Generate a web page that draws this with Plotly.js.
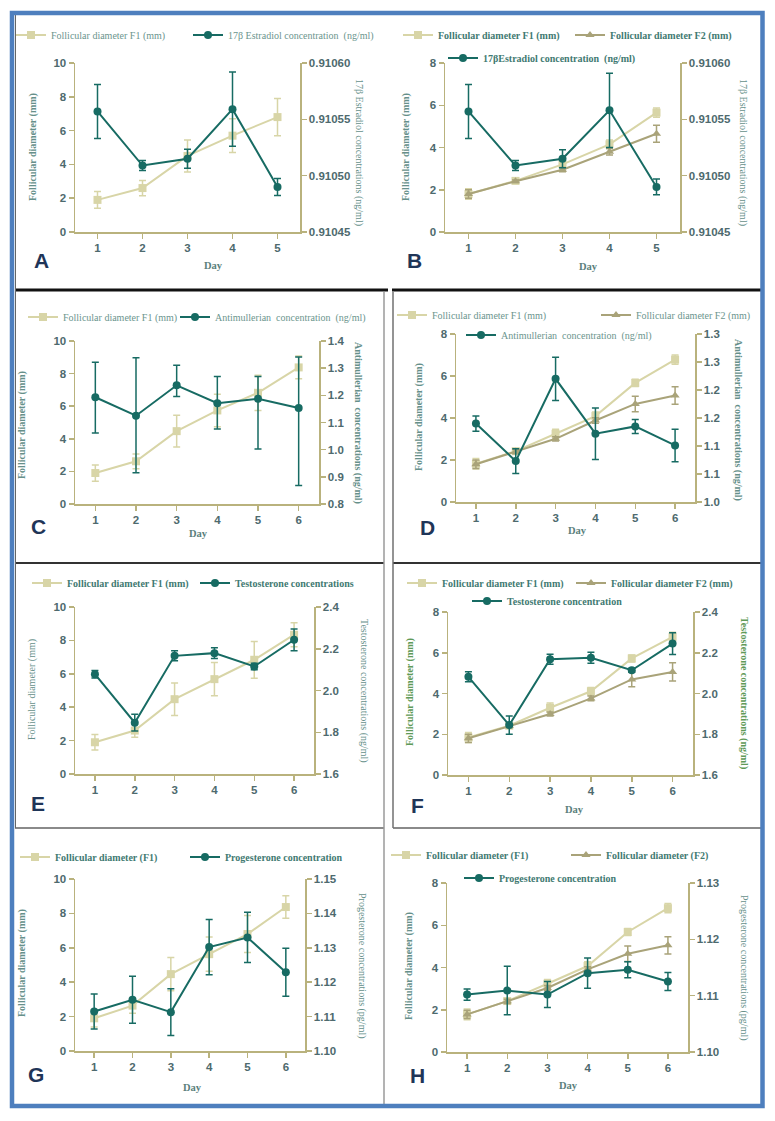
<!DOCTYPE html>
<html>
<head>
<meta charset="utf-8">
<script src="https://cdn.plot.ly/plotly-3.0.1.min.js"></script>
<style>
  html, body { margin: 0; padding: 0; background: #fff; }
  #chart { width: 775px; height: 1121px; }
</style>
</head>
<body>
<div id="chart"></div>
<script>
const days5 = [1, 2, 3, 4, 5];
const days6 = [1, 2, 3, 4, 5, 6];

// A - estradiol, one follicle
const aF1 = [1.9, 2.6, 4.5, 5.7, 6.8];
const aF1Sd = [0.5, 0.45, 0.95, 1.0, 1.1];
const aE2 = [0.910557, 0.910509, 0.910515, 0.910559, 0.910490];
const aE2Sd = [0.000024, 0.0000045, 0.0000085, 0.000033, 0.0000075];

// B - estradiol, two follicles
const bF1 = [1.8, 2.42, 3.2, 4.15, 5.65];
const bF1Sd = [0.25, 0.07, 0.2, 0.2, 0.22];
const bF2 = [1.8, 2.4, 2.95, 3.8, 4.65];
const bF2Sd = [0.2, 0.06, 0.1, 0.15, 0.4];
const bE2 = [0.910557, 0.910509, 0.910515, 0.910558, 0.910490];
const bE2Sd = [0.000024, 0.0000045, 0.000008, 0.000033, 0.000007];

// C - AMH, one follicle
const cF1 = [1.9, 2.62, 4.47, 5.74, 6.82, 8.38];
const cF1Sd = [0.5, 0.45, 0.97, 1.0, 1.08, 0.7];
const cAmh = [1.193, 1.125, 1.237, 1.171, 1.187, 1.153];
const cAmhUp = [0.129, 0.213, 0.074, 0.098, 0.082, 0.188];
const cAmhDn = [0.132, 0.21, 0.041, 0.095, 0.185, 0.285];

// D - AMH, two follicles
const dF1 = [1.82, 2.42, 3.25, 4.09, 5.67, 6.78];
const dF1Sd = [0.25, 0.12, 0.22, 0.2, 0.17, 0.22];
const dF2 = [1.8, 2.4, 3.01, 3.88, 4.67, 5.07];
const dF2Sd = [0.2, 0.1, 0.1, 0.13, 0.37, 0.42];
const dAmh = [1.140, 1.073, 1.220, 1.122, 1.135, 1.101];
const dAmhSd = [0.0135, 0.022, 0.0386, 0.046, 0.0125, 0.029];

// E - testosterone, one follicle
const eF1 = [1.9, 2.6, 4.48, 5.68, 6.84, 8.34];
const eF1Sd = [0.47, 0.4, 0.97, 1.0, 1.1, 0.72];
const eT = [2.078, 1.846, 2.166, 2.179, 2.115, 2.243];
const eTSd = [0.018, 0.04, 0.024, 0.026, 0.016, 0.052];

// F - testosterone, two follicles
const fF1 = [1.84, 2.42, 3.3, 4.11, 5.72, 6.78];
const fF1Sd = [0.25, 0.1, 0.23, 0.18, 0.17, 0.23];
const fF2 = [1.8, 2.4, 2.99, 3.76, 4.69, 5.06];
const fF2Sd = [0.2, 0.08, 0.1, 0.12, 0.36, 0.45];
const fT = [2.082, 1.845, 2.168, 2.175, 2.114, 2.245];
const fTSd = [0.0245, 0.045, 0.0245, 0.027, 0.01, 0.053];

// G - progesterone, one follicle
const gF1 = [1.9, 2.64, 4.47, 5.63, 6.8, 8.37];
const gF1Sd = [0.5, 0.45, 0.97, 1.0, 1.08, 0.65];
const gP = [1.1115, 1.1149, 1.1113, 1.1302, 1.133, 1.1229];
const gPSd = [0.0051, 0.0068, 0.0068, 0.008, 0.0073, 0.007];

// H - progesterone, two follicles
const hF1 = [1.78, 2.41, 3.23, 4.07, 5.68, 6.81];
const hF1Sd = [0.25, 0.12, 0.2, 0.2, 0.17, 0.22];
const hF2 = [1.78, 2.4, 3.03, 3.91, 4.65, 5.05];
const hF2Sd = [0.2, 0.1, 0.12, 0.13, 0.37, 0.41];
const hP = [1.1102, 1.1109, 1.1102, 1.1140, 1.1146, 1.1125];
const hPSd = [0.001, 0.0043, 0.0023, 0.0027, 0.0014, 0.0016];

// tick values / labels
const leftTicks10 = [0, 2, 4, 6, 8, 10];
const leftTicks8 = [0, 2, 4, 6, 8];
const e2Ticks = [0.91045, 0.9105, 0.91055, 0.9106];
const amhTicksC = [0.8, 0.9, 1.0, 1.1, 1.2, 1.3, 1.4];
const amhTicksD = [1.0, 1.05, 1.1, 1.15, 1.2, 1.25, 1.3];
const amhTextD = ['1.0', '1.1', '1.1', '1.2', '1.2', '1.3', '1.3'];
const testTicks = [1.6, 1.8, 2.0, 2.2, 2.4];
const progTicksG = [1.10, 1.11, 1.12, 1.13, 1.14, 1.15];
const progTicksH = [1.10, 1.11, 1.12, 1.13];

const W = 775, H = 1121;
const C_F1 = '#d8d5a7', C_F2 = '#a9a379', C_HOR = '#176b63';
const C_AX = '#b9b27d', C_TICK = '#4e6a6e', C_TITLE = '#66908a';
const SERIF = 'Liberation Serif, Times New Roman, serif';
const SANS = 'Liberation Sans, Arial, sans-serif';

const nb = s => s.replace(/  /g, ' \u00a0');

// panel geometry in pixels, plus its series
const panels = [
  { box: [75, 300, 63, 232], xmax: 5.5, days: days5, left: leftTicks10, right: e2Ticks, rfmt: '.5f',
    bold: false, rbold: false, letter: ['A', 41, 260], day: [213, 265],
    ltitle: [33, 147], rtitle: [359, 152, '17β Estradiol concentrations (ng/ml)'],
    series: [
      ['F1', aF1, aF1Sd, aF1Sd, 'Follicular diameter F1 (mm)', 53, 35],
      ['H', aE2, aE2Sd, aE2Sd, '17β Estradiol concentration  (ng/ml)', 230, 35]] },
  { box: [445, 680, 63, 232], xmax: 5.5, days: days5, left: leftTicks8, right: e2Ticks, rfmt: '.5f',
    bold: true, rbold: false, letter: ['B', 414, 260], day: [588, 266],
    ltitle: [406, 147], rtitle: [743, 152, '17β Estradiol concentrations (ng/ml)'],
    series: [
      ['F1', bF1, bF1Sd, bF1Sd, 'Follicular diameter F1 (mm)', 440, 35],
      ['F2', bF2, bF2Sd, bF2Sd, 'Follicular diameter F2 (mm)', 612, 35],
      ['H', bE2, bE2Sd, bE2Sd, '17βEstradiol concentration  (ng/ml)', 485, 58]] },
  { box: [75, 319, 341, 504], xmax: 6.5, days: days6, left: leftTicks10, right: amhTicksC, rfmt: '.1f',
    bold: false, rbold: true, letter: ['C', 38, 526], day: [198, 534],
    ltitle: [22, 425], rtitle: [358, 423, 'Antimullerian  concentrations (ng/ml)'],
    series: [
      ['F1', cF1, cF1Sd, cF1Sd, 'Follicular diameter F1 (mm)', 65, 317],
      ['H', cAmh, cAmhUp, cAmhDn, 'Antimullerian  concentration  (ng/ml)', 217, 317]] },
  { box: [456, 695, 334, 502], xmax: 6.5, days: days6, left: leftTicks8, right: amhTicksD, rtext: amhTextD,
    bold: false, rbold: true, letter: ['D', 427, 527], day: [577, 530],
    ltitle: [419, 417], rtitle: [738, 420, 'Antimullerian  concentrations (ng/ml)'],
    series: [
      ['F1', dF1, dF1Sd, dF1Sd, 'Follicular diameter F1 (mm)', 434, 315],
      ['F2', dF2, dF2Sd, dF2Sd, 'Follicular diameter F2 (mm)', 638, 315],
      ['H', dAmh, dAmhSd, dAmhSd, 'Antimullerian  concentration  (ng/ml)', 503, 335]] },
  { box: [75, 314, 607, 774], xmax: 6.5, days: days6, left: leftTicks10, right: testTicks, rfmt: '.1f',
    bold: true, rbold: false, lreg: true, letter: ['E', 38, 803], day: null,
    ltitle: [32, 690], rtitle: [364, 691, 'Testosterone concentrations (ng/ml)'],
    series: [
      ['F1', eF1, eF1Sd, eF1Sd, 'Follicular diameter F1 (mm)', 69, 583],
      ['H', eT, eTSd, eTSd, 'Testosterone concentrations', 237, 583]] },
  { box: [448, 693, 612, 775], xmax: 6.5, days: days6, left: leftTicks8, right: testTicks, rfmt: '.1f',
    bold: true, rbold: true, letter: ['F', 417, 805], day: [574, 809], green: true,
    ltitle: [410, 692], rtitle: [744, 693, 'Testosterone concentrations (ng/ml)'],
    series: [
      ['F1', fF1, fF1Sd, fF1Sd, 'Follicular diameter F1 (mm)', 444, 583],
      ['F2', fF2, fF2Sd, fF2Sd, 'Follicular diameter F2 (mm)', 613, 583],
      ['H', fT, fTSd, fTSd, 'Testosterone concentration', 509, 601]] },
  { box: [75, 305, 879, 1051], xmax: 6.5, days: days6, left: leftTicks10, right: progTicksG, rfmt: '.2f',
    bold: true, rbold: false, letter: ['G', 36, 1074], day: [192, 1087],
    ltitle: [22, 963], rtitle: [362, 966, 'Progesterone concentrations (pg/ml)'],
    series: [
      ['F1', gF1, gF1Sd, gF1Sd, 'Follicular diameter (F1)', 57, 857],
      ['H', gP, gPSd, gPSd, 'Progesterone concentration', 227, 857]] },
  { box: [447, 688, 883, 1052], xmax: 6.5, days: days6, left: leftTicks8, right: progTicksH, rfmt: '.2f',
    bold: true, rbold: false, letter: ['H', 418, 1075], day: [568, 1085],
    ltitle: [409, 966], rtitle: [744, 968, 'Progesterone concentrations (pg/ml)'],
    series: [
      ['F1', hF1, hF1Sd, hF1Sd, 'Follicular diameter (F1)', 428, 855],
      ['F2', hF2, hF2Sd, hF2Sd, 'Follicular diameter (F2)', 608, 855],
      ['H', hP, hPSd, hPSd, 'Progesterone concentration', 501, 878]] }
];

const style = {
  F1: { color: C_F1, symbol: 'square', size: 8 },
  F2: { color: C_F2, symbol: 'triangle-up', size: 8 },
  H: { color: C_HOR, symbol: 'circle', size: 8 }
};

const data = [];
const layout = {
  width: W, height: H,
  margin: { l: 0, r: 0, t: 0, b: 0 },
  paper_bgcolor: '#fff', plot_bgcolor: 'rgba(0,0,0,0)',
  showlegend: true,
  annotations: [], shapes: []
};

let legendCount = 0;
const axisBase = {
  showline: true, linecolor: C_AX, linewidth: 1.5, showgrid: false, zeroline: false,
  ticks: 'outside', ticklen: 5, tickwidth: 1.5, tickcolor: C_AX,
  tickfont: { family: SANS, size: 11.5, color: C_TICK, weight: 'bold' },
  fixedrange: true
};

function note(x, y, text, font, angle) {
  layout.annotations.push({
    xref: 'paper', yref: 'paper', x: x / W, y: 1 - y / H,
    xanchor: 'center', yanchor: 'middle',
    text: text, textangle: angle || 0, showarrow: false, font: font
  });
}

panels.forEach((p, i) => {
  const xid = i === 0 ? 'x' : 'x' + (i + 1);
  const yl = i === 0 ? 'y' : 'y' + (2 * i + 1);
  const yr = 'y' + (2 * i + 2);
  const [x0, x1, y0, y1] = p.box;

  layout[i === 0 ? 'xaxis' : 'xaxis' + (i + 1)] = Object.assign({}, axisBase, {
    domain: [x0 / W, x1 / W], range: [0.5, p.xmax], anchor: yl,
    tickvals: p.days
  });
  layout['yaxis' + (i === 0 ? '' : 2 * i + 1)] = Object.assign({}, axisBase, {
    domain: [1 - y1 / H, 1 - y0 / H], range: [0, p.left[p.left.length - 1]], anchor: xid,
    tickvals: p.left
  });
  const rax = Object.assign({}, axisBase, {
    overlaying: yl, side: 'right', anchor: xid,
    range: [p.right[0], p.right[p.right.length - 1]], tickvals: p.right
  });
  if (p.rtext) rax.ticktext = p.rtext; else rax.tickformat = p.rfmt;
  layout['yaxis' + (2 * i + 2)] = rax;

  p.series.forEach(s => {
    const [kind, y, up, dn, name, tx, ty] = s;
    const st = style[kind];
    legendCount++;
    const lid = legendCount === 1 ? 'legend' : 'legend' + legendCount;
    data.push({
      type: 'scatter', mode: 'lines+markers', x: p.days, y: y, name: nb(name),
      xaxis: xid, yaxis: kind === 'H' ? yr : yl, legend: lid,
      line: { color: st.color, width: 2 },
      marker: { color: st.color, symbol: st.symbol, size: st.size },
      error_y: { type: 'data', array: up, arrayminus: dn, symmetric: false,
                 color: st.color, thickness: 1.5, width: 3.5 },
      hoverinfo: 'skip'
    });
    layout[lid] = {
      x: (tx - 42) / W, xanchor: 'left', y: 1 - ty / H, yanchor: 'middle',
      bgcolor: 'rgba(0,0,0,0)', borderwidth: 0, itemwidth: 30,
      font: { family: SERIF, size: 10, color: p.bold ? '#3f7a72' : '#6b958e', weight: p.bold ? 'bold' : 'normal' }
    };
  });

  const titleColor = p.green ? '#5f9a58' : C_TITLE;
  note(p.ltitle[0], p.ltitle[1], 'Follicular diameter (mm)',
    { family: SERIF, size: 10, color: titleColor, weight: p.lreg ? 'normal' : 'bold' }, -90);
  note(p.rtitle[0], p.rtitle[1], nb(p.rtitle[2]),
    { family: SERIF, size: 10, color: titleColor, weight: p.rbold ? 'bold' : 'normal' }, 90);
  if (p.day) {
    note(p.day[0], p.day[1], 'Day', { family: SERIF, size: 10.5, color: '#5b7f7c', weight: 'bold' });
  }
  note(p.letter[1], p.letter[2], p.letter[0], { family: SANS, size: 21, color: '#1f3558', weight: 'bold' });
});

// frame and panel dividers
function line(xa, ya, xb, yb, color, width) {
  layout.shapes.push({ type: 'line', xref: 'paper', yref: 'paper',
    x0: xa / W, y0: 1 - ya / H, x1: xb / W, y1: 1 - yb / H,
    line: { color: color, width: width } });
}
line(15, 290, 388, 290, '#111', 3);
line(392, 290, 762, 290, '#111', 3);
line(15, 563, 384, 563, '#333', 2);
line(393, 563, 762, 563, '#333', 2);
line(15, 828, 384, 828, '#8a8a8a', 2);
line(393, 828, 762, 828, '#8a8a8a', 2);
line(384, 292, 384, 1104, '#9a9a9a', 1.5);
line(393, 292, 393, 828, '#707070', 1.5);
line(15.5, 14, 15.5, 828, '#666', 1);
layout.shapes.push({ type: 'rect', xref: 'paper', yref: 'paper',
  x0: 12 / W, y0: 1 - 13 / H, x1: 762.5 / W, y1: 1 - 1106 / H,
  line: { color: '#4e7fbe', width: 4.5 } });

Plotly.newPlot('chart', data, layout, { displayModeBar: false, staticPlot: true });
</script>
</body>
</html>
